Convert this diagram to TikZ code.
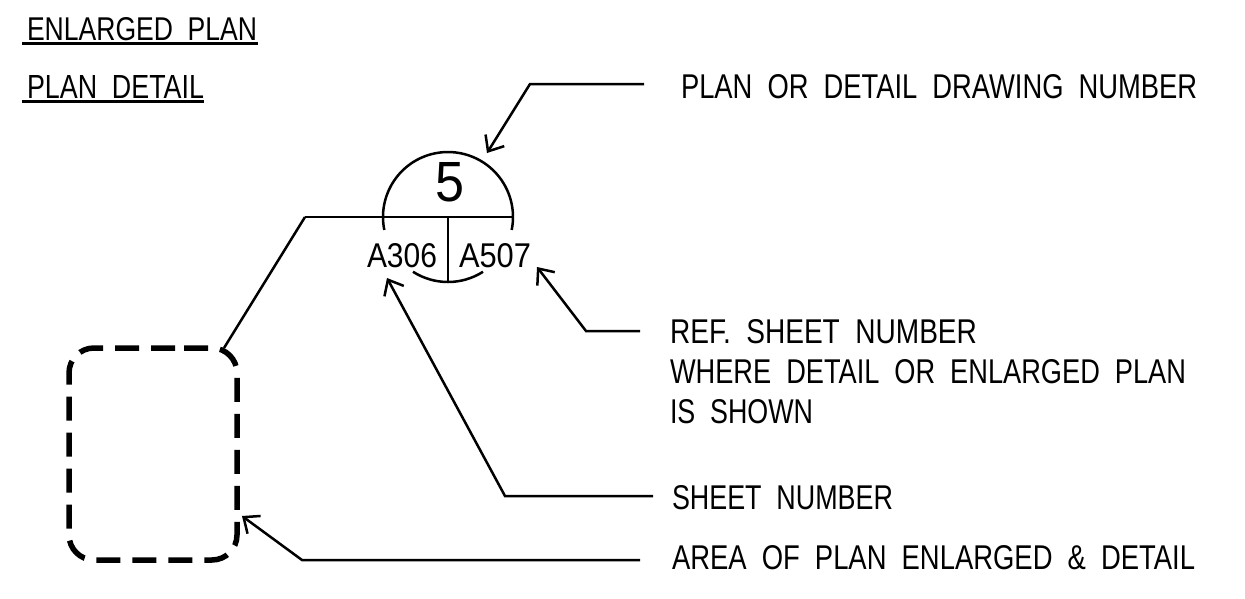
\documentclass[tikz,border=0pt]{standalone}
\usepackage{fontspec}
\setmainfont{Liberation Sans}
\usetikzlibrary{arrows.meta,calc}
\newcommand{\wsp}{\hspace{0.55em}}
\newcommand{\cadtxt}[3]{\resizebox{#1pt}{#2pt}{#3}}
\begin{document}
\begin{tikzpicture}[x=1pt,y=1pt,
  thin/.style={line width=2.5pt},
  lead/.style={line width=2.5pt,-{Straight Barb[length=13pt,width=22pt]}},
  txt/.style={inner sep=0pt,outer sep=0pt,anchor=base west},
  uline/.style={line width=3pt},
  dashbox/.style={line width=5.5pt,dash pattern=on 24pt off 12pt,dash phase=30pt,rounded corners=25pt}]
\useasboundingbox[fill=white] (0,0) rectangle (1245,-598);

% headings
\node[txt] (h1) at (27,-40) {\cadtxt{230}{23}{ENLARGED\wsp PLAN}};
\node[txt] (h2) at (27,-98) {\cadtxt{177}{23}{PLAN\wsp DETAIL}};
\draw[uline] (22,-43.5) -- (258,-43.5);
\draw[uline] (22,-101.5) -- (204,-101.5);

% symbol
\coordinate (c) at (448,-217);
\draw[thin] ($(c)+(191.5:65)$) arc[start angle=191.5,end angle=-11.5,radius=65];
\draw[thin] ($(c)+(237.4:65)$) arc[start angle=237.4,end angle=302.6,radius=65];
\coordinate (hl) at (305,-217);
\coordinate (hr) at (513,-217);
\coordinate (vb) at (448,-282);
\draw[thin] (hl) -- (hr);
\draw[thin] (c) -- (vb);
\node[txt] (n5) at (435,-201) {\cadtxt{29}{39}{5}};
\node[txt] (sA) at (367,-267) {\cadtxt{70}{24}{A306}};
\node[txt] (sB) at (459,-267) {\cadtxt{72}{24}{A507}};

% dashed area box
\draw[dashbox] (153,-348) -- (237,-348) -- (237,-560) -- (69,-560) -- (69,-348) -- cycle;
\coordinate (boxtop) at (224,-348);
\draw[thin] (hl) -- (boxtop);

% labels
\node[txt] (t1) at (681,-98) {\cadtxt{516}{24}{PLAN\wsp OR\wsp DETAIL\wsp DRAWING\wsp NUMBER}};
\node[txt] (t2a) at (670,-343) {\cadtxt{307}{24}{REF.\wsp SHEET\wsp NUMBER}};
\node[txt] (t2b) at (670,-383) {\cadtxt{516}{24}{WHERE\wsp DETAIL\wsp OR\wsp ENLARGED\wsp PLAN}};
\node[txt] (t2c) at (670,-423) {\cadtxt{143}{24}{IS\wsp SHOWN}};
\node[txt] (t3) at (672,-509) {\cadtxt{221}{24}{SHEET\wsp NUMBER}};
\node[txt] (t4) at (672,-569) {\cadtxt{523}{24}{AREA\wsp OF\wsp PLAN\wsp ENLARGED\wsp \&\wsp DETAIL}};

% leaders
\coordinate (e1) at (644,-84);  \coordinate (k1) at (530,-84);  \coordinate (p1) at (487,-153);
\coordinate (e2) at (640,-331); \coordinate (k2) at (586,-331); \coordinate (p2) at (537,-267);
\coordinate (e3) at (653,-496); \coordinate (k3) at (505,-496); \coordinate (p3) at (387,-278);
\coordinate (e4) at (640,-560); \coordinate (k4) at (302,-560); \coordinate (p4) at (242,-516);
\draw[lead] (e1) -- (k1) -- (p1);
\draw[lead] (e2) -- (k2) -- (p2);
\draw[lead] (e3) -- (k3) -- (p3);
\draw[lead] (e4) -- (k4) -- (p4);
\end{tikzpicture}
\end{document}
